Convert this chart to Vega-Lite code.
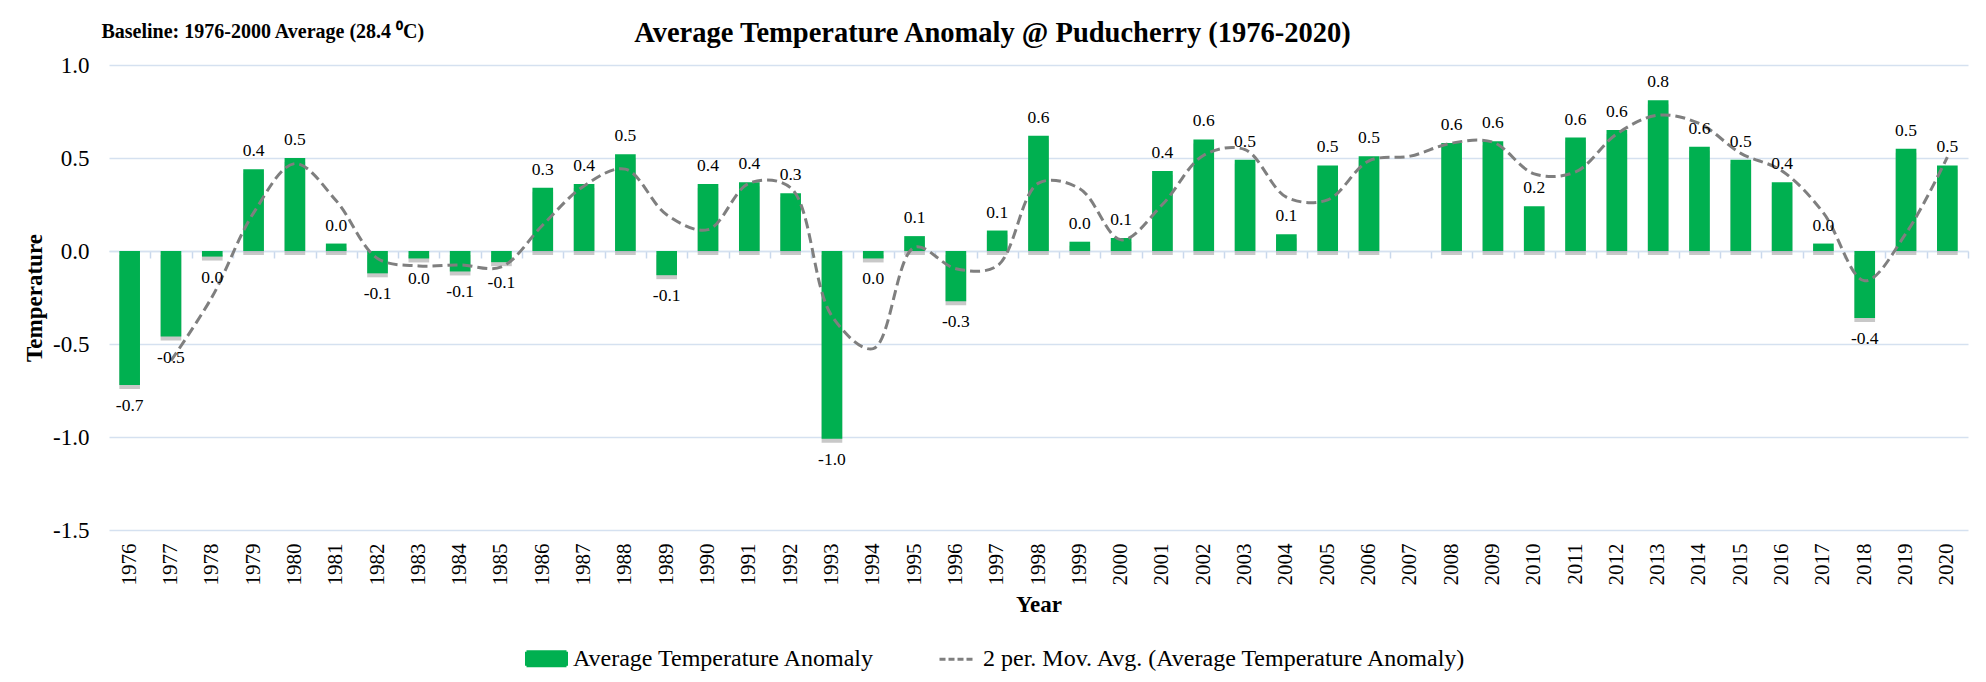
{
  "$schema": "https://vega.github.io/schema/vega-lite/v6.json",
  "width": 1859,
  "height": 465,
  "autosize": {"type": "none"},
  "padding": {"left": 109, "top": 65, "right": 18, "bottom": 152},
  "background": "white",
  "config": {
    "font": "Liberation Serif",
    "view": {"stroke": null},
    "locale": {"number": {"decimal": ".", "thousands": ",", "grouping": [3], "currency": ["$", ""], "minus": "-"}}
  },
  "title": {
    "text": "Average Temperature Anomaly @ Puducherry (1976-2020)",
    "font": "Liberation Serif",
    "fontSize": 28.5,
    "fontWeight": "bold",
    "color": "#000000",
    "anchor": "middle",
    "frame": "group",
    "dx": -46,
    "dy": 26,
    "offset": 0
  },
  "data": {
    "values": [
      {"year": 1976, "anomaly": -0.72, "label": "-0.7", "mavg": null},
      {"year": 1977, "anomaly": -0.46, "label": "-0.5", "mavg": -0.59},
      {"year": 1978, "anomaly": -0.03, "label": "0.0", "mavg": -0.245},
      {"year": 1979, "anomaly": 0.44, "label": "0.4", "mavg": 0.205},
      {"year": 1980, "anomaly": 0.50, "label": "0.5", "mavg": 0.47},
      {"year": 1981, "anomaly": 0.04, "label": "0.0", "mavg": 0.27},
      {"year": 1982, "anomaly": -0.12, "label": "-0.1", "mavg": -0.04},
      {"year": 1983, "anomaly": -0.04, "label": "0.0", "mavg": -0.08},
      {"year": 1984, "anomaly": -0.11, "label": "-0.1", "mavg": -0.075},
      {"year": 1985, "anomaly": -0.06, "label": "-0.1", "mavg": -0.085},
      {"year": 1986, "anomaly": 0.34, "label": "0.3", "mavg": 0.14},
      {"year": 1987, "anomaly": 0.36, "label": "0.4", "mavg": 0.35},
      {"year": 1988, "anomaly": 0.52, "label": "0.5", "mavg": 0.44},
      {"year": 1989, "anomaly": -0.13, "label": "-0.1", "mavg": 0.195},
      {"year": 1990, "anomaly": 0.36, "label": "0.4", "mavg": 0.115},
      {"year": 1991, "anomaly": 0.37, "label": "0.4", "mavg": 0.365},
      {"year": 1992, "anomaly": 0.31, "label": "0.3", "mavg": 0.34},
      {"year": 1993, "anomaly": -1.01, "label": "-1.0", "mavg": -0.35},
      {"year": 1994, "anomaly": -0.04, "label": "0.0", "mavg": -0.525},
      {"year": 1995, "anomaly": 0.08, "label": "0.1", "mavg": 0.02},
      {"year": 1996, "anomaly": -0.27, "label": "-0.3", "mavg": -0.095},
      {"year": 1997, "anomaly": 0.11, "label": "0.1", "mavg": -0.08},
      {"year": 1998, "anomaly": 0.62, "label": "0.6", "mavg": 0.365},
      {"year": 1999, "anomaly": 0.05, "label": "0.0", "mavg": 0.335},
      {"year": 2000, "anomaly": 0.07, "label": "0.1", "mavg": 0.06},
      {"year": 2001, "anomaly": 0.43, "label": "0.4", "mavg": 0.25},
      {"year": 2002, "anomaly": 0.60, "label": "0.6", "mavg": 0.515},
      {"year": 2003, "anomaly": 0.49, "label": "0.5", "mavg": 0.545},
      {"year": 2004, "anomaly": 0.09, "label": "0.1", "mavg": 0.29},
      {"year": 2005, "anomaly": 0.46, "label": "0.5", "mavg": 0.275},
      {"year": 2006, "anomaly": 0.51, "label": "0.5", "mavg": 0.485},
      {"year": 2007, "anomaly": null, "label": "", "mavg": 0.51},
      {"year": 2008, "anomaly": 0.58, "label": "0.6", "mavg": 0.58},
      {"year": 2009, "anomaly": 0.59, "label": "0.6", "mavg": 0.585},
      {"year": 2010, "anomaly": 0.24, "label": "0.2", "mavg": 0.415},
      {"year": 2011, "anomaly": 0.61, "label": "0.6", "mavg": 0.425},
      {"year": 2012, "anomaly": 0.65, "label": "0.6", "mavg": 0.63},
      {"year": 2013, "anomaly": 0.81, "label": "0.8", "mavg": 0.73},
      {"year": 2014, "anomaly": 0.56, "label": "0.6", "mavg": 0.685},
      {"year": 2015, "anomaly": 0.49, "label": "0.5", "mavg": 0.525},
      {"year": 2016, "anomaly": 0.37, "label": "0.4", "mavg": 0.43},
      {"year": 2017, "anomaly": 0.04, "label": "0.0", "mavg": 0.205},
      {"year": 2018, "anomaly": -0.36, "label": "-0.4", "mavg": -0.16},
      {"year": 2019, "anomaly": 0.55, "label": "0.5", "mavg": 0.095},
      {"year": 2020, "anomaly": 0.46, "label": "0.5", "mavg": 0.505}
    ]
  },
  "resolve": {"axis": {"x": "independent"}},
  "layer": [
    {
      "mark": {"type": "bar", "color": "#9a9a9a", "opacity": 0.55, "yOffset": 4, "y2Offset": 4},
      "encoding": {
        "x": {
          "field": "year", "type": "ordinal",
          "scale": {"paddingInner": 0.5, "paddingOuter": 0.25},
          "axis": null
        },
        "y": {
          "field": "anomaly", "type": "quantitative",
          "scale": {"domain": [-1.5, 1.0], "nice": false, "zero": false},
          "axis": {
            "title": "Temperature", "titleFontSize": 23, "titleFontWeight": "bold", "titleColor": "#000000",
            "titlePadding": 6,
            "values": [-1.5, -1.0, -0.5, 0, 0.5, 1.0], "format": ".1f",
            "labelFontSize": 23, "labelColor": "#000000", "labelPadding": 20,
            "ticks": false, "tickSize": 0, "domain": false,
            "grid": true, "gridColor": "#d5e1f0", "gridWidth": 1.5
          }
        }
      }
    },
    {
      "mark": {"type": "bar"},
      "encoding": {
        "x": {
          "field": "year", "type": "ordinal",
          "axis": {
            "orient": "bottom", "title": "Year", "titleFontSize": 23, "titleFontWeight": "bold",
            "titleColor": "#000000", "titlePadding": 8,
            "labelAngle": 270, "labelFontSize": 21, "labelColor": "#000000", "labelPadding": 13,
            "ticks": false, "tickSize": 0, "domain": false, "grid": false
          }
        },
        "y": {
          "field": "anomaly", "type": "quantitative",
          "axis": {
            "title": "Temperature", "titleFontSize": 23, "titleFontWeight": "bold", "titleColor": "#000000",
            "titlePadding": 6,
            "values": [-1.5, -1.0, -0.5, 0, 0.5, 1.0], "format": ".1f",
            "labelFontSize": 23, "labelColor": "#000000", "labelPadding": 20,
            "ticks": false, "tickSize": 0, "domain": false,
            "grid": true, "gridColor": "#d5e1f0", "gridWidth": 1.5
          }
        },
        "color": {
          "datum": "Average Temperature Anomaly",
          "scale": {
            "domain": ["Average Temperature Anomaly", "2 per. Mov. Avg. (Average Temperature Anomaly)"],
            "range": ["#00b050", "#7f7f7f"]
          },
          "legend": {
            "title": null,
            "orient": "none",
            "legendX": 416,
            "legendY": 572,
            "direction": "horizontal",
            "labelFontSize": 24,
            "labelFont": "Liberation Serif",
            "labelColor": "#000000",
            "labelLimit": 0,
            "labelOffset": 5,
            "columnPadding": 58,
            "symbolSize": 1600,
            "encode": {
              "symbols": {
                "update": {
                  "shape": {"signal": "datum.value === 'Average Temperature Anomaly' ? 'M-1,-0.35H1V0.35H-1Z' : 'M-0.85,0H0.85'"},
                  "fill": {"signal": "datum.value === 'Average Temperature Anomaly' ? '#00b050' : 'transparent'"},
                  "stroke": {"signal": "datum.value === 'Average Temperature Anomaly' ? 'transparent' : '#7f7f7f'"},
                  "strokeWidth": {"value": 3},
                  "strokeDash": {"signal": "datum.value === 'Average Temperature Anomaly' ? [1, 0] : [6, 3]"},
                  "opacity": {"value": 1}
                }
              }
            }
          }
        }
      }
    },
    {
      "mark": {"type": "line", "interpolate": "catmull-rom", "strokeWidth": 3, "strokeDash": [10, 5]},
      "encoding": {
        "x": {
          "field": "year", "type": "ordinal",
          "axis": {
            "orient": "bottom", "offset": -279, "title": null, "labels": false, "grid": false,
            "domain": true, "domainColor": "#d5e1f0", "domainWidth": 1.5,
            "ticks": true, "tickColor": "#c9d8ec", "tickWidth": 1.5, "tickSize": 7,
            "bandPosition": 1, "tickOffset": 10.33
          }
        },
        "y": {"field": "mavg", "type": "quantitative"},
        "color": {"datum": "2 per. Mov. Avg. (Average Temperature Anomaly)"}
      }
    },
    {
      "transform": [{"filter": "datum.anomaly != null && datum.anomaly >= 0"}],
      "mark": {"type": "text", "baseline": "bottom", "dy": -9, "fontSize": 17.5, "color": "#000000"},
      "encoding": {
        "x": {
          "field": "year", "type": "ordinal",
          "axis": {
            "orient": "top", "labels": false, "ticks": false, "domain": false, "grid": false,
            "title": "Baseline: 1976-2000 Average (28.4 ⁰C)",
            "titleFontSize": 20, "titleFontWeight": "bold", "titleColor": "#000000",
            "titleX": -8, "titleY": -34, "titleAlign": "left", "titleBaseline": "middle", "titleAngle": 0
          }
        },
        "y": {"field": "anomaly", "type": "quantitative"},
        "text": {"field": "label"}
      }
    },
    {
      "transform": [{"filter": "datum.anomaly != null && datum.anomaly < 0"}],
      "mark": {"type": "text", "baseline": "top", "dy": 12, "fontSize": 17.5, "color": "#000000"},
      "encoding": {
        "x": {"field": "year", "type": "ordinal", "axis": null},
        "y": {"field": "anomaly", "type": "quantitative"},
        "text": {"field": "label"}
      }
    }
  ]
}
